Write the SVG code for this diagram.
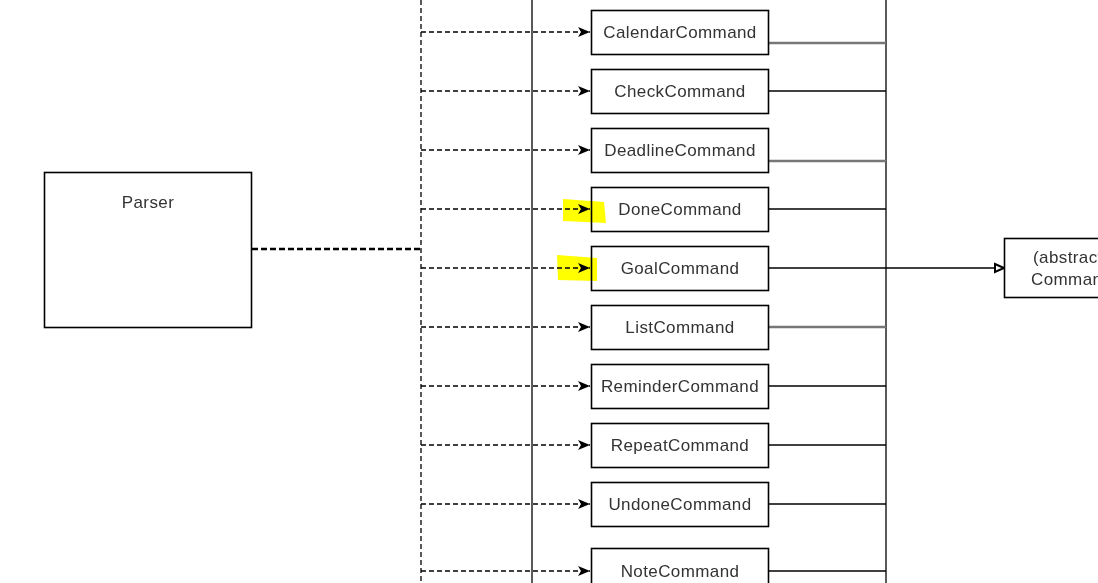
<svg xmlns="http://www.w3.org/2000/svg" width="1098" height="583" viewBox="0 0 1098 583">
<style>
.box{fill:#fff;stroke:#000;stroke-width:1.6}
.t{font-family:"Liberation Sans",Arial,sans-serif;font-size:17px;fill:#333;text-anchor:middle;letter-spacing:0.4px}
.dep{fill:none;stroke:#000;stroke-width:1.3;stroke-dasharray:5 3}
.sol{fill:none;stroke:#000;stroke-width:1.3}
.gray{fill:none;stroke:#777;stroke-width:2.6}
.hl{fill:#ffff00;mix-blend-mode:multiply}
</style>
<defs>
<marker id="arr" markerWidth="13" markerHeight="11" refX="12" refY="5.5" orient="auto" markerUnits="userSpaceOnUse">
<path d="M0,0.5 L12,5.5 L0,10.5 L3,5.5 Z" fill="#000"/>
</marker>
<marker id="tri" markerWidth="12" markerHeight="12" refX="10" refY="6" orient="auto" markerUnits="userSpaceOnUse">
<path d="M1,2 L10,6 L1,10 Z" fill="#fff" stroke="#000" stroke-width="2"/>
</marker>
</defs>
<rect width="1098" height="583" fill="#fff"/>
<g id="connectors">
<line class="dep" x1="421" y1="0" x2="421" y2="583"/>
<line class="sol" x1="532" y1="0" x2="532" y2="583"/>
<line class="sol" x1="886" y1="0" x2="886" y2="583"/>
<line x1="252" y1="249" x2="421" y2="249" stroke="#000" stroke-width="2.6" stroke-dasharray="6 3"/>
<path class="dep" d="M421,32 H590" marker-end="url(#arr)"/>
<path class="dep" d="M421,91 H590" marker-end="url(#arr)"/>
<path class="dep" d="M421,150 H590" marker-end="url(#arr)"/>
<path class="dep" d="M421,209 H590" marker-end="url(#arr)"/>
<path class="dep" d="M421,268 H590" marker-end="url(#arr)"/>
<path class="dep" d="M421,327 H590" marker-end="url(#arr)"/>
<path class="dep" d="M421,386 H590" marker-end="url(#arr)"/>
<path class="dep" d="M421,445 H590" marker-end="url(#arr)"/>
<path class="dep" d="M421,504 H590" marker-end="url(#arr)"/>
<path class="dep" d="M421,571 H590" marker-end="url(#arr)"/>
<line class="gray" x1="768" y1="43" x2="886" y2="43"/>
<line class="sol" x1="768" y1="91" x2="886" y2="91"/>
<line class="gray" x1="768" y1="161" x2="886" y2="161"/>
<line class="sol" x1="768" y1="209" x2="886" y2="209"/>
<path class="sol" d="M768,268 H1004" marker-end="url(#tri)"/>
<line class="gray" x1="768" y1="327" x2="886" y2="327"/>
<line class="sol" x1="768" y1="386" x2="886" y2="386"/>
<line class="sol" x1="768" y1="445" x2="886" y2="445"/>
<line class="sol" x1="768" y1="504" x2="886" y2="504"/>
<line class="sol" x1="768" y1="571" x2="886" y2="571"/>
</g>
<g id="parser"><rect class="box" x="44.5" y="172.5" width="207" height="155"/><text class="t" x="148" y="208">Parser</text></g>
<g id="calendar"><rect class="box" x="591.5" y="10.5" width="177" height="44"/><text class="t" x="680" y="38">CalendarCommand</text></g>
<g id="check"><rect class="box" x="591.5" y="69.5" width="177" height="44"/><text class="t" x="680" y="97">CheckCommand</text></g>
<g id="deadline"><rect class="box" x="591.5" y="128.5" width="177" height="44"/><text class="t" x="680" y="156">DeadlineCommand</text></g>
<g id="done"><rect class="box" x="591.5" y="187.5" width="177" height="44"/><text class="t" x="680" y="215">DoneCommand</text></g>
<g id="goal"><rect class="box" x="591.5" y="246.5" width="177" height="44"/><text class="t" x="680" y="274">GoalCommand</text></g>
<g id="list"><rect class="box" x="591.5" y="305.5" width="177" height="44"/><text class="t" x="680" y="333">ListCommand</text></g>
<g id="reminder"><rect class="box" x="591.5" y="364.5" width="177" height="44"/><text class="t" x="680" y="392">ReminderCommand</text></g>
<g id="repeat"><rect class="box" x="591.5" y="423.5" width="177" height="44"/><text class="t" x="680" y="451">RepeatCommand</text></g>
<g id="undone"><rect class="box" x="591.5" y="482.5" width="177" height="44"/><text class="t" x="680" y="510">UndoneCommand</text></g>
<g id="note"><rect class="box" x="591.5" y="548.5" width="177" height="44"/><text class="t" x="680" y="577">NoteCommand</text></g>
<g id="command"><rect class="box" x="1004.5" y="238.5" width="130" height="59"/><text class="t" x="1062" y="263" text-anchor="start" style="text-anchor:start" dx="-29">(abstract)</text><text class="t" x="1031" y="285" style="text-anchor:start">Command</text></g>
<g id="highlights">
<path class="hl" d="M563,199 L604,202 L606,223 L563,221 Z"/>
<path class="hl" d="M557,255 L597,258 L597,281 L558,280 Z"/>
</g>
</svg>
